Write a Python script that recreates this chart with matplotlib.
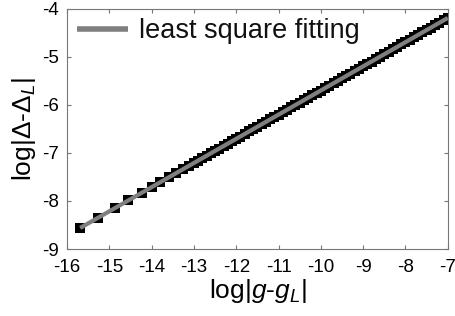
import numpy as np
import matplotlib
matplotlib.use('Agg')
import matplotlib.pyplot as plt

plt.rcParams['font.family'] = ['Liberation Sans', 'DejaVu Sans']
plt.rcParams['mathtext.fontset'] = 'custom'
plt.rcParams['mathtext.rm'] = 'Liberation Sans'
plt.rcParams['mathtext.it'] = 'Liberation Sans:italic'
plt.rcParams['axes.unicode_minus'] = False

# log|g-gL| and log|Delta-Delta_L|
log_g = [-15.69, -15.27, -14.87, -14.56, -14.23, -14.0, -13.8, -13.6, -13.42, -13.25, -13.12,
         -13.0, -12.9, -12.8, -12.7, -12.6, -12.5, -12.4, -12.3, -12.2, -12.1,
         -12.0, -11.9, -11.8, -11.7, -11.6, -11.5, -11.4, -11.3, -11.2, -11.1,
         -11.0, -10.9, -10.8, -10.7, -10.6, -10.5, -10.4, -10.3, -10.2, -10.1,
         -10.0, -9.9, -9.8, -9.7, -9.6, -9.5, -9.4, -9.3, -9.2, -9.1,
         -9.0, -8.9, -8.8, -8.7, -8.6, -8.5, -8.4, -8.3, -8.2, -8.1,
         -8.0, -7.9, -7.8, -7.7, -7.6, -7.5, -7.4, -7.3, -7.2, -7.1, -7.0]
log_d = [-8.56, -8.35, -8.15, -7.99, -7.83, -7.71, -7.61, -7.51, -7.42, -7.33, -7.27,
         -7.21, -7.16, -7.11, -7.06, -7.01, -6.96, -6.91, -6.86, -6.81, -6.76,
         -6.71, -6.66, -6.60, -6.55, -6.50, -6.45, -6.40, -6.35, -6.30, -6.25,
         -6.20, -6.15, -6.10, -6.05, -6.00, -5.95, -5.90, -5.85, -5.80, -5.75,
         -5.70, -5.65, -5.60, -5.55, -5.50, -5.45, -5.40, -5.35, -5.30, -5.25,
         -5.20, -5.15, -5.10, -5.05, -5.00, -4.95, -4.89, -4.84, -4.79, -4.74,
         -4.69, -4.64, -4.59, -4.54, -4.49, -4.44, -4.39, -4.34, -4.29, -4.24, -4.19]

x = np.array(log_g)
y = np.array(log_d)
p = np.polyfit(x, y, 1)
xf = np.array([x.min(), x.max()])

fig = plt.figure(figsize=(4.56, 3.16), dpi=100)
ax = fig.add_axes([0.147, 0.212, 0.835, 0.760])

ax.plot(x, y, 's', color='black', markersize=6.5, markeredgewidth=0)
ax.plot(xf, np.polyval(p, xf), color='#7f7f7f', linewidth=3, label='least square fitting',
        solid_capstyle='butt')

ax.set_xlim(-16, -7)
ax.set_ylim(-9, -4)
ax.set_xticks(range(-16, -6))
ax.set_yticks(range(-9, -3))
ax.tick_params(direction='in', length=3, labelsize=13.5, top=True, right=True,
               color='#777777')
ax.tick_params(axis='x', pad=7)
ax.tick_params(axis='y', pad=6)
for s in ax.spines.values():
    s.set_color('#777777')
    s.set_linewidth(0.8)

ax.set_xlabel(r'log|$\mathit{g}$-$\mathit{g}_{\mathit{L}}$|', fontsize=19, labelpad=1)
ax.set_ylabel(r'log|$\Delta$-$\Delta_{\mathit{L}}$|', fontsize=19, labelpad=3)

leg = ax.legend(loc='upper left', frameon=False, fontsize=19.5, handlelength=1.9,
                borderaxespad=0.05, handletextpad=0.4, borderpad=0.3)
for l in leg.get_lines():
    l.set_linewidth(4)
for t in leg.get_texts():
    t.set_color('#111111')

fig.savefig('out.png', dpi=100)
